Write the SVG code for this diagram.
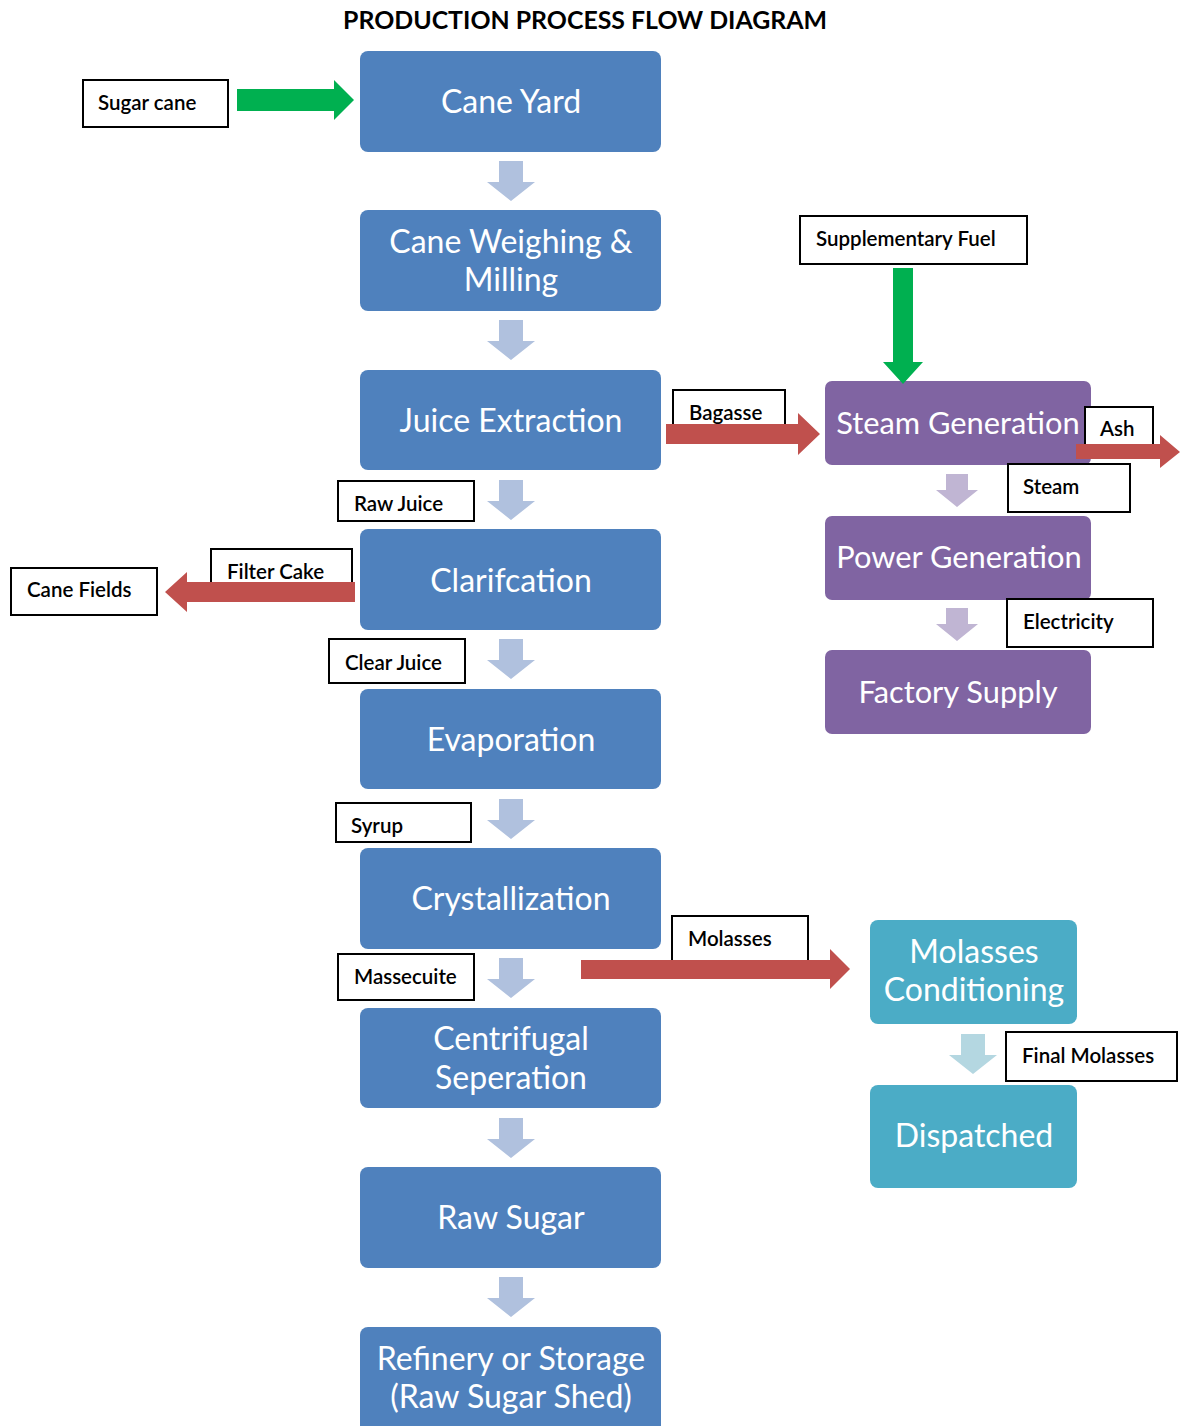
<svg xmlns="http://www.w3.org/2000/svg" width="1187" height="1426" viewBox="0 0 1187 1426">
<defs>
<style>
.blue{fill:#4F81BD}
.purple{fill:#8064A2}
.teal{fill:#4BACC6}
.nt{fill:#fff;font-family:Lato,"Open Sans",sans-serif;font-size:32px;text-anchor:middle}
.ps{font-size:30.8px}
.lb{fill:#fff;stroke:#000;stroke-width:2}
.lt{fill:#000;font-family:Lato,"Open Sans",sans-serif;font-size:20.5px;font-weight:600}
.red{fill:#C0504D}
.green{fill:#00B050}
.da{fill:#B0C1DE}
.pa{fill:#C0B5D3}
.ta{fill:#B4D7E1}
.title{font-family:Lato,"Open Sans",sans-serif;font-size:24px;font-weight:bold;fill:#000;text-anchor:middle}
</style>
<path id="down" d="M-12,0 h24 v21 h12 l-24,19 l-24,-19 h12 z"/>
<path id="downS" d="M-11,0 h22 v16 h10 l-21,17 l-21,-17 h10 z"/>
</defs>
<rect width="1187" height="1426" fill="#fff"/>
<text class="title" x="585" y="29" textLength="484" lengthAdjust="spacingAndGlyphs">PRODUCTION PROCESS FLOW DIAGRAM</text>

<g id="cane-yard"><rect class="blue" x="360" y="51" width="301" height="101" rx="8"/><text class="nt" x="511" y="113">Cane Yard</text></g>
<g id="cane-weighing"><rect class="blue" x="360" y="210" width="301" height="101" rx="8"/><text class="nt" x="511" y="253">Cane Weighing &amp;</text><text class="nt" x="511" y="291">Milling</text></g>
<g id="juice-extraction"><rect class="blue" x="360" y="370" width="301" height="100" rx="8"/><text class="nt" x="511" y="432">Juice Extraction</text></g>
<g id="clarification"><rect class="blue" x="360" y="529" width="301" height="101" rx="8"/><text class="nt" x="511" y="592">Clarifcation</text></g>
<g id="evaporation"><rect class="blue" x="360" y="689" width="301" height="100" rx="8"/><text class="nt" x="511" y="751">Evaporation</text></g>
<g id="crystallization"><rect class="blue" x="360" y="848" width="301" height="101" rx="8"/><text class="nt" x="511" y="910">Crystallization</text></g>
<g id="centrifugal"><rect class="blue" x="360" y="1008" width="301" height="100" rx="8"/><text class="nt" x="511" y="1050">Centrifugal</text><text class="nt" x="511" y="1089">Seperation</text></g>
<g id="raw-sugar"><rect class="blue" x="360" y="1167" width="301" height="101" rx="8"/><text class="nt" x="511" y="1229">Raw Sugar</text></g>
<g id="refinery"><rect class="blue" x="360" y="1327" width="301" height="110" rx="8"/><text class="nt" x="511" y="1370">Refinery or Storage</text><text class="nt" x="511" y="1408">(Raw Sugar Shed)</text></g>

<g id="steam-generation"><rect class="purple" x="825" y="381" width="266" height="84" rx="7"/><text class="nt ps" x="958" y="434">Steam Generation</text></g>
<g id="power-generation"><rect class="purple" x="825" y="516" width="266" height="84" rx="7"/><text class="nt ps" x="959" y="568">Power Generation</text></g>
<g id="factory-supply"><rect class="purple" x="825" y="650" width="266" height="84" rx="7"/><text class="nt ps" x="958" y="703">Factory Supply</text></g>

<g id="molasses-conditioning"><rect class="teal" x="870" y="920" width="207" height="104" rx="8"/><text class="nt" x="974" y="963">Molasses</text><text class="nt" x="974" y="1001">Conditioning</text></g>
<g id="dispatched"><rect class="teal" x="870" y="1085" width="207" height="103" rx="8"/><text class="nt" x="974" y="1147">Dispatched</text></g>

<g id="connectors">
<use href="#down" class="da" x="511" y="161"/>
<use href="#down" class="da" x="511" y="320"/>
<use href="#down" class="da" x="511" y="480"/>
<use href="#down" class="da" x="511" y="639"/>
<use href="#down" class="da" x="511" y="799"/>
<use href="#down" class="da" x="511" y="958"/>
<use href="#down" class="da" x="511" y="1118"/>
<use href="#down" class="da" x="511" y="1277"/>
<use href="#downS" class="pa" x="957" y="474"/>
<use href="#downS" class="pa" x="957" y="608"/>
<use href="#down" class="ta" x="973" y="1034"/>

<rect class="lb" x="83" y="80" width="145" height="47"/><text class="lt" x="98" y="110">Sugar cane</text>
<path class="green" d="M237,89 H334 V80 L354,100 L334,120 V111 H237 Z"/>

<rect class="lb" x="800" y="216" width="227" height="48"/><text class="lt" x="816" y="246">Supplementary Fuel</text>
<path class="green" d="M893,268 H913 V362 H923 L903,384 L883,362 H893 Z"/>

<rect class="lb" x="673" y="390" width="112" height="45"/><text class="lt" x="689" y="420">Bagasse</text>
<path class="red" d="M666,424 H798 V413 L820,434 L798,455 V444 H666 Z"/>

<rect class="lb" x="1085" y="407" width="68" height="40"/><text class="lt" x="1100" y="436">Ash</text>
<path class="red" d="M1076,444 H1160 V435 L1180,452 L1160,468 V459 H1076 Z"/>

<rect class="lb" x="1008" y="464" width="122" height="48"/><text class="lt" x="1023" y="494">Steam</text>
<rect class="lb" x="1007" y="599" width="146" height="48"/><text class="lt" x="1023" y="629">Electricity</text>

<rect class="lb" x="338" y="481" width="136" height="40"/><text class="lt" x="354" y="511">Raw Juice</text>

<rect class="lb" x="211" y="549" width="141" height="45"/><text class="lt" x="227" y="579">Filter Cake</text>
<rect class="lb" x="11" y="568" width="146" height="47"/><text class="lt" x="27" y="597">Cane Fields</text>
<path class="red" d="M355,582 H187 V572 L165,592 L187,612 V602 H355 Z"/>

<rect class="lb" x="329" y="639" width="136" height="44"/><text class="lt" x="345" y="670">Clear Juice</text>
<rect class="lb" x="336" y="803" width="135" height="39"/><text class="lt" x="351" y="833">Syrup</text>
<rect class="lb" x="338" y="954" width="136" height="46"/><text class="lt" x="354" y="984">Massecuite</text>

<rect class="lb" x="672" y="916" width="136" height="46"/><text class="lt" x="688" y="946">Molasses</text>
<path class="red" d="M581,960 H830 V949 L850,969 L830,989 V979 H581 Z"/>

<rect class="lb" x="1006" y="1032" width="171" height="49"/><text class="lt" x="1022" y="1063">Final Molasses</text>
</g>
</svg>
